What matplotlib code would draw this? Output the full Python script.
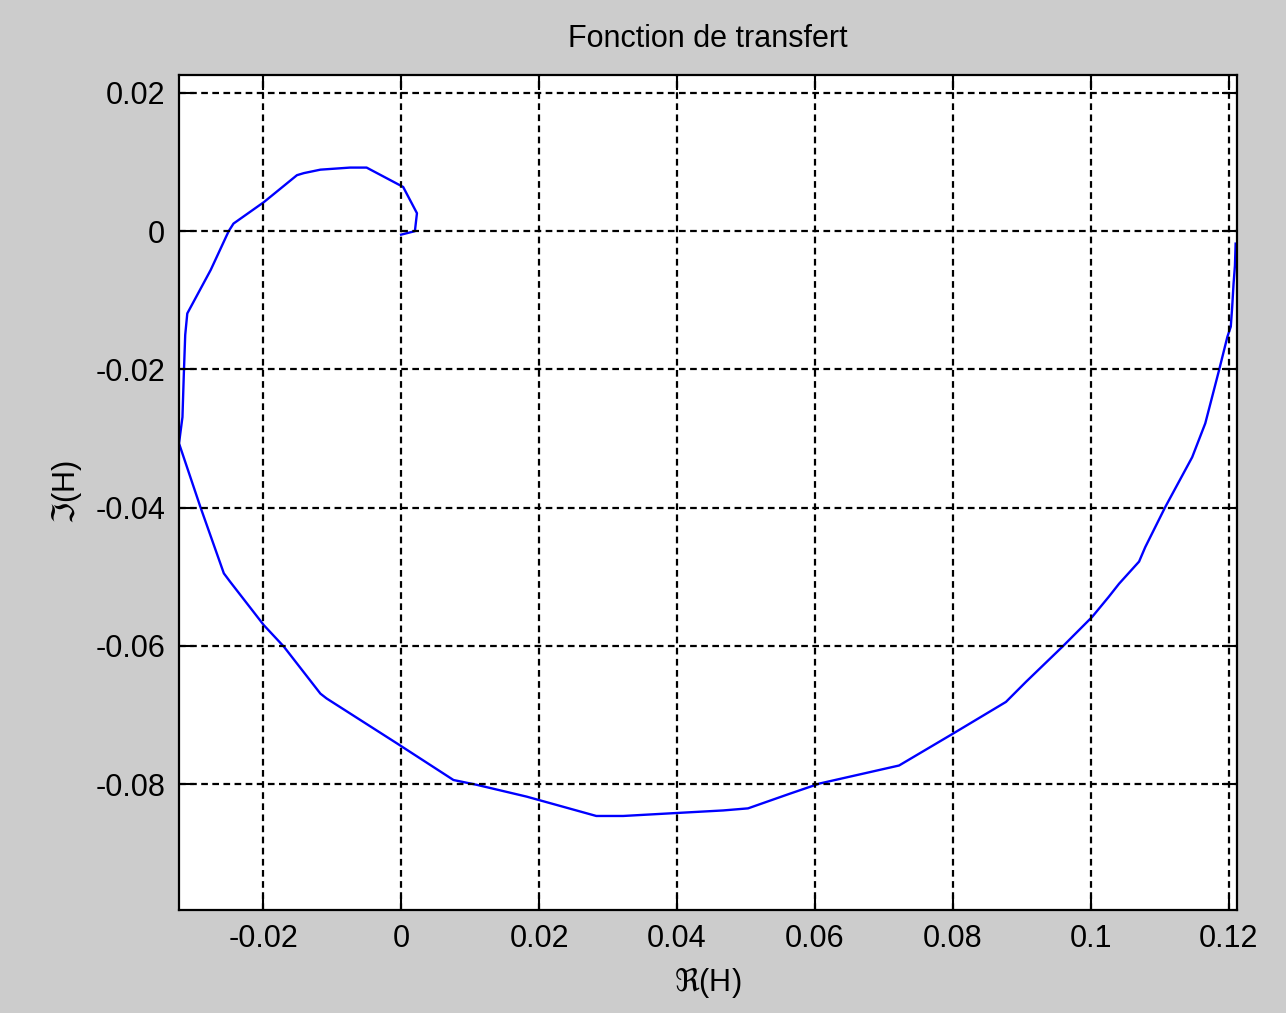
import matplotlib.pyplot as plt

# Nyquist locus of H
re_h = [0.1210, 0.1209, 0.1207, 0.1205, 0.1203, 0.1198, 0.1186, 0.1166, 0.1147, 0.1108,
        0.1079, 0.1070, 0.1041, 0.1026, 0.1002, 0.0959, 0.0906, 0.0877, 0.0800, 0.0722,
        0.0607, 0.0563, 0.0503, 0.0467, 0.0394, 0.0322, 0.0283, 0.0182, 0.0110, 0.0076,
        -0.0006, -0.0108, -0.0117, -0.0170, -0.0199, -0.0248, -0.0257, -0.0291, -0.0322,
        -0.0317, -0.0315, -0.0313, -0.0310, -0.0276, -0.0250, -0.0243, -0.0199, -0.0151,
        -0.0141, -0.0117, -0.0074, -0.0050, 0.0003, 0.0023, 0.0020, 0.0000]
im_h = [-0.0018, -0.0050, -0.0076, -0.0110, -0.0138, -0.0153, -0.0201, -0.0278, -0.0327, -0.0399,
        -0.0457, -0.0478, -0.0510, -0.0529, -0.0558, -0.0601, -0.0652, -0.0681, -0.0727, -0.0773,
        -0.0799, -0.0814, -0.0835, -0.0838, -0.0842, -0.0846, -0.0846, -0.0818, -0.0801, -0.0794,
        -0.0741, -0.0676, -0.0669, -0.0601, -0.0570, -0.0507, -0.0495, -0.0399, -0.0307,
        -0.0269, -0.0206, -0.0150, -0.0119, -0.0056, 0.0000, 0.0011, 0.0042, 0.0081,
        0.0084, 0.0089, 0.0092, 0.0092, 0.0064, 0.0026, 0.0000, -0.0005]

x_ticks = [-0.02, 0, 0.02, 0.04, 0.06, 0.08, 0.1, 0.12]
x_labels = ['-0.02', '0', '0.02', '0.04', '0.06', '0.08', '0.1', '0.12']
y_ticks = [0.02, 0, -0.02, -0.04, -0.06, -0.08]
y_labels = ['0.02', '0', '-0.02', '-0.04', '-0.06', '-0.08']

plt.rcParams['font.family'] = ['Liberation Sans', 'DejaVu Sans']
plt.rcParams['mathtext.fontset'] = 'dejavusans'

fig = plt.figure(figsize=(12.86, 10.13), dpi=100, facecolor='#cccccc')
ax = fig.add_axes([0.1392, 0.1017, 0.8227, 0.8243])
ax.set_facecolor('white')

ax.plot(re_h, im_h, color='#0000ff', lw=1.7)

ax.set_xlim(-0.0322, 0.1212)
ax.set_ylim(-0.0982, 0.0226)
ax.set_xticks(x_ticks)
ax.set_xticklabels(x_labels)
ax.set_yticks(y_ticks)
ax.set_yticklabels(y_labels)

ax.grid(True, color='black', linestyle=(0, (3, 2)), linewidth=1.6)
ax.set_axisbelow(False)
ax.tick_params(direction='in', length=11, width=1.5, top=True, right=True,
               labelsize=22, pad=10, colors='black')
for s in ax.spines.values():
    s.set_linewidth(1.6)

ax.set_title('Fonction de transfert', fontsize=22, pad=20)
ax.set_xlabel(r'$\Re$(H)', fontsize=22, labelpad=8)
ax.set_ylabel(r'$\Im$(H)', fontsize=22, labelpad=8)

fig.savefig('out.png', dpi=100, facecolor=fig.get_facecolor())
